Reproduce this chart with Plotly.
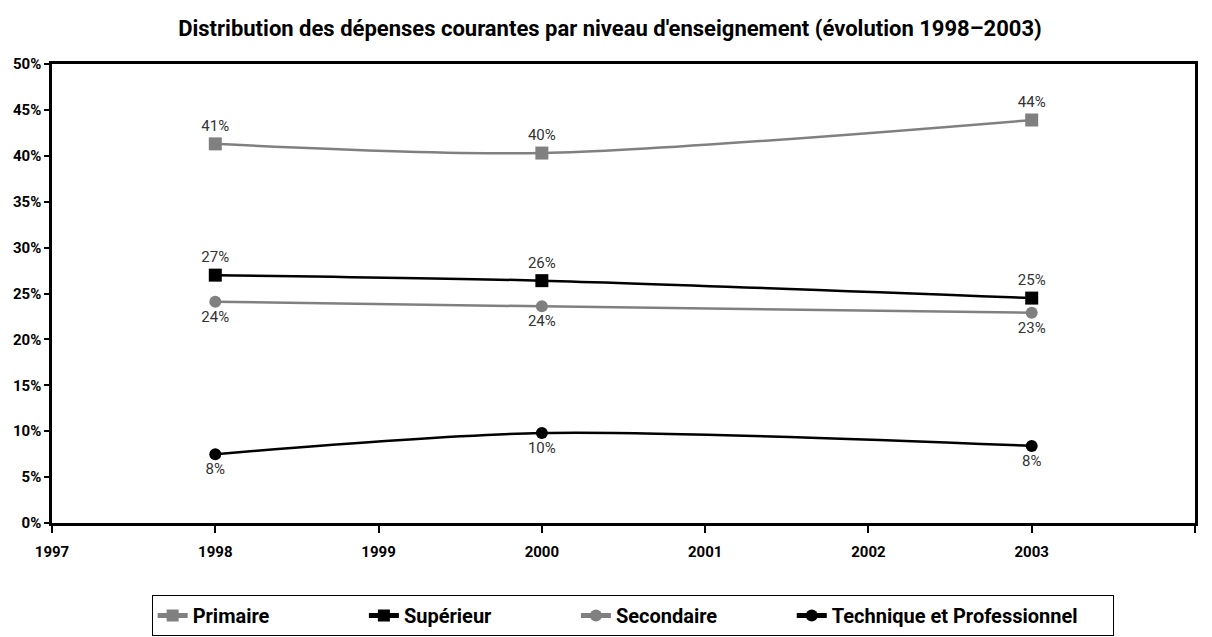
import plotly.graph_objects as go

# Données (en %)
annees = [1998, 2000, 2003]
primaire = [41.3, 40.3, 43.9]
superieur = [27.0, 26.4, 24.5]
secondaire = [24.1, 23.6, 22.9]
technique = [7.5, 9.8, 8.4]

tick_annees = [1997, 1998, 1999, 2000, 2001, 2002, 2003, 2004]
tick_pct = [0, 5, 10, 15, 20, 25, 30, 35, 40, 45, 50]

POLICE = "Roboto, Liberation Sans, sans-serif"
GRIS = "#808080"
NBSP = "\u00a0"

# nom, valeurs, couleur, symbole, taille, position du texte, espaces de legende
series = [
    ("Primaire", primaire, GRIS, "square", 13, "top center", 18),
    ("Supérieur", superieur, "black", "square", 13, "top center", 16),
    ("Secondaire", secondaire, GRIS, "circle", 12, "bottom center", 14),
    ("Technique et Professionnel", technique, "black", "circle", 12, "bottom center", 6),
]

fig = go.Figure()

for nom, valeurs, couleur, symbole, taille, pos_texte, pad in series:
    fig.add_trace(go.Scatter(
        x=annees,
        y=valeurs,
        name=nom + NBSP * pad,
        mode="lines+markers+text",
        line=dict(color=couleur, width=2.5, shape="spline", smoothing=0.8),
        marker=dict(color=couleur, symbol=symbole, size=taille),
        texttemplate="%{y:.0f}%",
        textposition=pos_texte,
        textfont=dict(family=POLICE, size=15, color="#333333"),
        hoverinfo="skip",
    ))

# la page ajoute une marge de 8 px autour de la figure
fig.update_layout(
    width=1204,
    height=629,
    margin=dict(l=44, r=17, t=56, b=114),
    paper_bgcolor="white",
    plot_bgcolor="white",
    font=dict(family=POLICE, color="black"),
    title=dict(
        text="<b>Distribution des dépenses courantes par niveau d'enseignement (évolution 1998–2003)</b>",
        x=0.5, xanchor="center", y=1 - 20 / 629, yanchor="middle",
        font=dict(family=POLICE, size=22, color="black"),
    ),
    xaxis=dict(
        range=[1997, 2004],
        tickvals=tick_annees,
        ticktext=[f"<b>{a}</b>" for a in tick_annees],
        showgrid=False, zeroline=False, automargin=False,
        showline=True, linecolor="black", linewidth=2.5, mirror=True,
        ticks="outside", ticklen=7, tickwidth=1.5, tickcolor="black",
        ticklabelstandoff=6,
        tickfont=dict(family=POLICE, size=15, color="black"),
    ),
    yaxis=dict(
        range=[0, 50],
        tickvals=tick_pct,
        ticktext=[f"<b>{p}%</b>" for p in tick_pct],
        showgrid=False, zeroline=False, automargin=False,
        showline=True, linecolor="black", linewidth=2.5, mirror=True,
        ticks="outside", ticklen=5, tickwidth=1.5, tickcolor="black",
        tickfont=dict(family=POLICE, size=15, color="black"),
    ),
    showlegend=True,
    legend=dict(
        orientation="h",
        x=0.508, xanchor="center",
        yref="container", y=1 - 587 / 629, yanchor="top",
        bordercolor="black", borderwidth=1,
        font=dict(family=POLICE, size=20, color="black", weight="bold"),
        itemsizing="constant",
        traceorder="normal",
    ),
)

fig.write_html("out.html")
